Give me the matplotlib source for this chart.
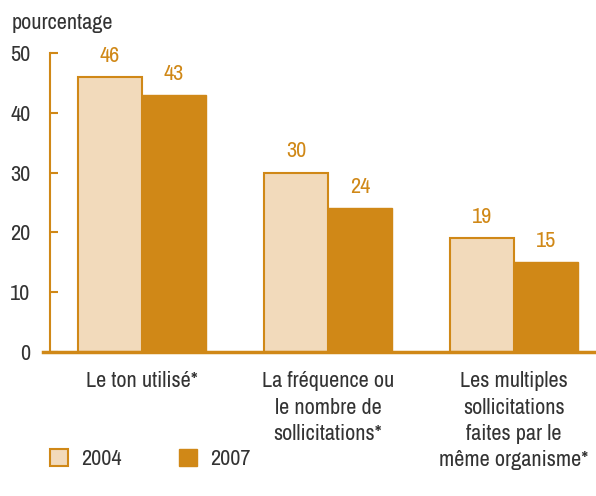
import matplotlib
matplotlib.use("Agg")
import matplotlib.pyplot as plt
from matplotlib.patches import Patch
from matplotlib import font_manager

categories = ["Le ton utilisé*", "La fréquence ou\nle nombre de\nsollicitations*",
              "Les multiples\nsollicitations\nfaites par le\nmême organisme*"]
series_names = ["2004", "2007"]
values_2004 = [46, 30, 19]
values_2007 = [43, 24, 15]
yticks = [0, 10, 20, 30, 40, 50]

names = sorted({f.name for f in font_manager.fontManager.ttflist})
cond = [n for n in names if "Condensed" in n or "Narrow" in n]
if cond:
    fam = cond[0]
elif "Roboto" in names:
    fam = "Roboto"
else:
    fam = "DejaVu Sans"
plt.rcParams['font.family'] = [fam, 'DejaVu Sans']

light = "#F2DABB"
dark = "#D08817"
txt = "#333333"
fs = 16

fig = plt.figure(figsize=(5.96, 4.96), dpi=100)
ax = fig.add_axes([50/596, 144/496, 546/596, 299/496])

x = list(range(len(categories)))
w = 0.344
b1 = ax.bar([i - w/2 for i in x], values_2004, width=w, color=light, edgecolor=dark, linewidth=1.5)
b2 = ax.bar([i + w/2 for i in x], values_2007, width=w, color=dark, edgecolor=dark, linewidth=1.0)

for bars, vals in ((b1, values_2004), (b2, values_2007)):
    for r, v in zip(bars, vals):
        ax.annotate(str(v), (r.get_x() + r.get_width()/2, v), xytext=(0, 8),
                    textcoords="offset points", ha="center", va="bottom",
                    color=dark, fontsize=fs, clip_on=False)

ax.set_xlim(-92/186, 454/186)
ax.set_ylim(0, 50)
ax.set_yticks(yticks)
ax.set_yticklabels([str(t) for t in yticks])
ax.tick_params(axis='y', direction='in', length=6, width=1.5, color=dark, labelsize=fs,
               labelcolor=txt, pad=14)
ax.set_xticks(x)
ax.set_xticklabels(categories, fontsize=fs, color=txt, linespacing=1.38)
ax.tick_params(axis='x', length=0, pad=14)

for s in ("top", "right"):
    ax.spines[s].set_visible(False)
ax.spines["left"].set_color(dark)
ax.spines["left"].set_linewidth(1.5)
ax.spines["bottom"].set_visible(False)
ax.plot([-0.013, 1.0], [0, 0], transform=ax.transAxes, color=dark, lw=2.5, clip_on=False, zorder=5)

fig.text(12/596, 1 - 23/496, "pourcentage", fontsize=fs, color=txt, va="center", ha="left")

handles = [Patch(facecolor=light, edgecolor=dark, linewidth=1.5),
           Patch(facecolor=dark, edgecolor=dark)]
fig.legend(handles, series_names, loc="center left", bbox_to_anchor=(30/596, 1 - 459/496),
           ncol=2, frameon=False, fontsize=fs, handlelength=0.8, handleheight=0.8,
           handletextpad=0.6, columnspacing=2.6, labelcolor=txt)

fig.savefig("out.png", dpi=100)
